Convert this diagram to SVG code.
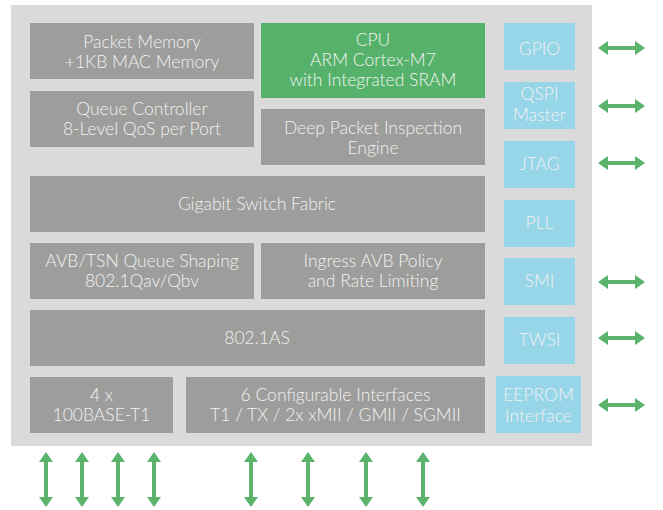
<svg xmlns="http://www.w3.org/2000/svg" width="663" height="510" viewBox="0 0 663 510">
<defs>
<style>
.bg{fill:#dadada}
.g{fill:#9d9d9c}
.c{fill:#56b26a}
.b{fill:#97d5e8}
text{font-family:Lato,"Open Sans","Liberation Sans",sans-serif;font-weight:300;font-size:17.5px;fill:#f2f2f2;text-anchor:middle}
.ar{fill:#5bb36c}
</style>
<path id="ha" d="M0,0 L10,-7 L10,-2 L37,-2 L37,-7 L47,0 L37,7 L37,2 L10,2 L10,7 Z"/>
<path id="va" d="M0,0 L-7,10 L-2,10 L-2,45 L-7,45 L0,55 L7,45 L2,45 L2,10 L7,10 Z"/>
</defs>
<rect class="bg" x="11" y="5" width="581" height="441"/>
<g id="packet-memory"><rect class="g" x="30" y="23" width="224" height="56"/><text x="142" y="48">Packet Memory</text><text x="142" y="68">+1KB MAC Memory</text></g>
<g id="cpu"><rect class="c" x="261" y="23" width="224" height="75"/><text x="373" y="46">CPU</text><text x="373" y="66">ARM Cortex-M7</text><text x="373" y="86">with Integrated SRAM</text></g>
<g id="queue-controller"><rect class="g" x="30" y="91" width="224" height="56"/><text x="142" y="115">Queue Controller</text><text x="142" y="135">8-Level QoS per Port</text></g>
<g id="dpi"><rect class="g" x="261" y="109" width="224" height="56"/><text x="373" y="134">Deep Packet Inspection</text><text x="373" y="154">Engine</text></g>
<g id="switch-fabric"><rect class="g" x="30" y="176" width="455" height="56"/><text x="257" y="210">Gigabit Switch Fabric</text></g>
<g id="avb-tsn"><rect class="g" x="30" y="243" width="224" height="56"/><text x="142" y="267">AVB/TSN Queue Shaping</text><text x="142" y="287">802.1Qav/Qbv</text></g>
<g id="ingress"><rect class="g" x="261" y="243" width="224" height="56"/><text x="373" y="267">Ingress AVB Policy</text><text x="373" y="287">and Rate Limiting</text></g>
<g id="as"><rect class="g" x="30" y="310" width="455" height="56"/><text x="257" y="344">802.1AS</text></g>
<g id="t1"><rect class="g" x="30" y="377" width="143" height="56"/><text x="101.5" y="401">4 x</text><text x="101.5" y="421">100BASE-T1</text></g>
<g id="config"><rect class="g" x="186" y="377" width="299" height="56"/><text x="335.5" y="401">6 Configurable Interfaces</text><text x="335.5" y="421">T1 / TX / 2x xMII / GMII / SGMII</text></g>
<g id="gpio"><rect class="b" x="504" y="23" width="71" height="47"/><text x="539.5" y="55">GPIO</text></g>
<g id="qspi"><rect class="b" x="504" y="82" width="71" height="47"/><text x="539.5" y="100">QSPI</text><text x="539.5" y="121">Master</text></g>
<g id="jtag"><rect class="b" x="504" y="141" width="71" height="47"/><text x="539.5" y="170">JTAG</text></g>
<g id="pll"><rect class="b" x="504" y="200" width="71" height="47"/><text x="539.5" y="229">PLL</text></g>
<g id="smi"><rect class="b" x="504" y="258" width="71" height="47"/><text x="539.5" y="287">SMI</text></g>
<g id="twsi"><rect class="b" x="504" y="317" width="71" height="47"/><text x="539.5" y="346">TWSI</text></g>
<g id="eeprom"><rect class="b" x="496" y="376" width="85" height="57"/><text x="538.5" y="401">EEPROM</text><text x="538.5" y="422">Interface</text></g>
<g id="connectors" class="ar">
<use href="#ha" x="598" y="48"/>
<use href="#ha" x="598" y="106"/>
<use href="#ha" x="598" y="163"/>
<use href="#ha" x="598" y="282"/>
<use href="#ha" x="598" y="338"/>
<use href="#ha" x="598" y="405"/>
<use href="#va" x="46" y="452"/>
<use href="#va" x="82" y="452"/>
<use href="#va" x="118" y="452"/>
<use href="#va" x="154" y="452"/>
<use href="#va" x="251" y="452"/>
<use href="#va" x="308" y="452"/>
<use href="#va" x="366" y="452"/>
<use href="#va" x="423" y="452"/>
</g>
</svg>
